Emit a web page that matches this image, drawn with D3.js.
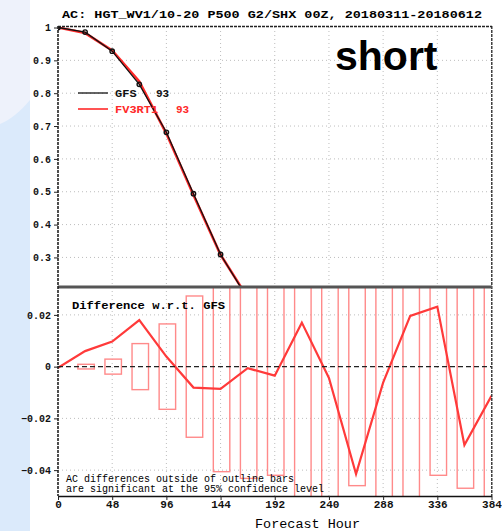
<!DOCTYPE html>
<html>
<head>
<meta charset="utf-8">
<title>AC HGT 500 short</title>
<script src="https://d3js.org/d3.v7.min.js"></script>
<style>
  body { margin: 0; background: #fff; }
  svg { display: block; }
  .mono { font-family: "Liberation Mono", "DejaVu Sans Mono", monospace; }
</style>
</head>
<body>
<svg width="502" height="531"></svg>
<script>
// forecast hours for the anomaly correlation curves
const hours = [0, 24, 48, 72, 96, 120, 144, 168];
const gfsAC = [1, 0.986, 0.928, 0.827, 0.681, 0.494, 0.309, 0.175];
const fv3AC = [1, 0.983, 0.930, 0.836, 0.677, 0.490, 0.308, 0.178];

// FV3 minus GFS, every 24h
const diffHours = [0, 24, 48, 72, 96, 120, 144, 168, 192, 216, 240, 264, 288, 312, 336, 360, 384];
const diffVals = [-0.0005, 0.006, 0.0097, 0.018, 0.0039, -0.0081, -0.0086, -0.0006, -0.0035,
                  0.017, -0.0044, -0.0415, -0.0062, 0.0196, 0.0232, -0.0303, -0.0113];

// 95% confidence half-height of outline bars
const barHours = [24, 48, 72, 96, 120, 144, 168, 192, 216, 240, 264, 288, 312, 336, 360, 384];
const barHalf = [0.0009, 0.0029, 0.0089, 0.0165, 0.0273, 0.0406, 0.0432, 0.042,
                 0.056, 0.058, 0.046, 0.057, 0.059, 0.042, 0.047, 0.06];

const xTicks = [0, 48, 96, 144, 192, 240, 288, 336, 384];
const topTicks = [0.3, 0.4, 0.5, 0.6, 0.7, 0.8, 0.9, 1];
const botTicks = [-0.04, -0.02, 0, 0.02];
const legendNames = ["GFS", "FV3RT1"];
const legendCounts = [93, 93];

const svg = d3.select("svg");

// slide background strip on the left
svg.append("rect").attr("x", 0).attr("y", 0).attr("width", 30).attr("height", 531).attr("fill", "#dbeafb");
svg.append("path").attr("d", "M0,0H30V100C20,112 10,120 0,124Z").attr("fill", "#eef2fb");

const x = d3.scaleLinear().domain([0, 384]).range([58, 491.5]);
const yTop = d3.scaleLinear().domain([0.21, 1]).range([287, 27.5]);
const yBot = d3.scaleLinear().domain([-0.05, 0.03]).range([496, 289]);

const defs = svg.append("defs");
defs.append("clipPath").attr("id", "clipTop").append("rect")
  .attr("x", 58).attr("y", 26).attr("width", 434).attr("height", 261);
defs.append("clipPath").attr("id", "clipBot").append("rect")
  .attr("x", 58).attr("y", 287).attr("width", 433.5).attr("height", 209);

// title
svg.append("text").attr("class", "mono")
  .attr("x", 62).attr("y", 17.5)
  .attr("textLength", 420).attr("lengthAdjust", "spacingAndGlyphs")
  .style("font-size", "10px").style("font-weight", "bold")
  .text("AC: HGT_WV1/10-20 P500 G2/SHX 00Z, 20180311-20180612");

// grids
const gridCol = "#bdbdbd";
const grid = svg.append("g").attr("stroke", gridCol).attr("stroke-width", 1).attr("stroke-dasharray", "1,3");
grid.selectAll(".vt").data(xTicks.slice(1, -1)).join("line")
  .attr("x1", d => x(d)).attr("x2", d => x(d)).attr("y1", 27).attr("y2", 496);
grid.selectAll(".ht").data(topTicks.slice(0, -1)).join("line")
  .attr("x1", 58).attr("x2", 491.5).attr("y1", d => yTop(d)).attr("y2", d => yTop(d));
grid.selectAll(".hb").data(botTicks.filter(d => d !== 0)).join("line")
  .attr("x1", 58).attr("x2", 491.5).attr("y1", d => yBot(d)).attr("y2", d => yBot(d));

// top panel curves
const topG = svg.append("g").attr("clip-path", "url(#clipTop)");
const lineTop = vals => d3.line().x((d, i) => x(hours[i])).y(d => yTop(d))(vals);
topG.append("path").attr("d", lineTop(fv3AC)).attr("fill", "none").attr("stroke", "#ff2a2a").attr("stroke-width", 2.6);
topG.append("path").attr("d", lineTop(gfsAC)).attr("fill", "none").attr("stroke", "#111").attr("stroke-width", 1.3);
topG.selectAll("circle").data(gfsAC).join("circle")
  .attr("cx", (d, i) => x(hours[i])).attr("cy", d => yTop(d)).attr("r", 2.2)
  .attr("fill", "none").attr("stroke", "#111").attr("stroke-width", 1.4);

// "short" label
svg.append("text").attr("x", 335).attr("y", 70)
  .style("font-family", "'Liberation Sans', Arial, sans-serif").style("font-weight", "bold")
  .style("font-size", "41px").text("short");

// legend
const legCol = ["#111", "#ff2a2a"];
const legY = [93, 109];
legendNames.forEach((n, i) => {
  svg.append("line").attr("x1", 78).attr("x2", 108).attr("y1", legY[i]).attr("y2", legY[i])
    .attr("stroke", legCol[i]).attr("stroke-width", i ? 1.6 : 1.3);
  svg.append("text").attr("class", "mono").attr("x", 115).attr("y", legY[i] + 3.5)
    .attr("fill", legCol[i]).style("font-size", "11px").style("font-weight", "bold")
    .attr("textLength", n.length * 7.2).attr("lengthAdjust", "spacingAndGlyphs").text(n);
  svg.append("text").attr("class", "mono").attr("x", i ? 176 : 156).attr("y", legY[i] + 3.5)
    .attr("fill", legCol[i]).style("font-size", "11px").style("font-weight", "bold")
    .text(legendCounts[i]);
});

// bottom panel: outline bars, zero line, difference curve
const botG = svg.append("g").attr("clip-path", "url(#clipBot)");
botG.selectAll("rect").data(barHours).join("rect")
  .attr("x", d => x(d - 7.3) + 1).attr("width", x(14.6) - x(0))
  .attr("y", (d, i) => yBot(barHalf[i])).attr("height", (d, i) => yBot(-barHalf[i]) - yBot(barHalf[i]))
  .attr("fill", "none").attr("stroke", "#ff8a8a").attr("stroke-width", 1.4);
svg.append("line").attr("x1", 58).attr("x2", 491.5).attr("y1", yBot(0)).attr("y2", yBot(0))
  .attr("stroke", "#222").attr("stroke-width", 1.2).attr("stroke-dasharray", "5,3");
botG.append("path")
  .attr("d", d3.line().x((d, i) => x(diffHours[i])).y(d => yBot(d))(diffVals))
  .attr("fill", "none").attr("stroke", "#ff3a3a").attr("stroke-width", 2.2);

svg.append("text").attr("class", "mono").attr("x", 72).attr("y", 308.5)
  .attr("textLength", 153).attr("lengthAdjust", "spacingAndGlyphs")
  .style("font-size", "11.5px").style("font-weight", "bold").text("Difference w.r.t. GFS");
svg.append("text").attr("class", "mono").attr("x", 66).attr("y", 482)
  .style("font-size", "10px").text("AC differences outside of outline bars");
svg.append("text").attr("class", "mono").attr("x", 66).attr("y", 492)
  .style("font-size", "10px").text("are significant at the 95% confidence level");

// frame
svg.append("line").attr("x1", 58).attr("x2", 492).attr("y1", 26.5).attr("y2", 26.5)
  .attr("stroke", "#222").attr("stroke-width", 1.3).attr("stroke-dasharray", "3,1");
svg.append("line").attr("x1", 491.8).attr("x2", 491.8).attr("y1", 26).attr("y2", 496)
  .attr("stroke", "#222").attr("stroke-width", 1.3).attr("stroke-dasharray", "3,1");
svg.append("line").attr("x1", 58).attr("x2", 492).attr("y1", 287).attr("y2", 287)
  .attr("stroke", "#555").attr("stroke-width", 3);

// axes
const styleAxis = g => {
  g.selectAll("text").attr("class", "mono").style("font-weight", "bold").attr("fill", "#111");
  g.selectAll(".tick line").attr("stroke", "#222");
};
svg.append("g").attr("transform", "translate(58,0)")
  .call(d3.axisLeft(yTop).tickValues(topTicks).tickSize(4).tickSizeOuter(0)
    .tickFormat(d => d === 1 ? "1" : d.toFixed(1)))
  .call(g => g.select(".domain").remove())
  .call(styleAxis).call(g => g.selectAll("text").style("font-size", "10px"));
svg.append("g").attr("transform", "translate(58,0)")
  .call(d3.axisLeft(yBot).tickValues(botTicks).tickSize(4).tickSizeOuter(0)
    .tickFormat(d => d === 0 ? "0" : d3.format(".2f")(d)))
  .call(g => g.select(".domain").remove())
  .call(styleAxis).call(g => g.selectAll("text").style("font-size", "10px"));
svg.append("line").attr("x1", 58).attr("x2", 58).attr("y1", 26).attr("y2", 496)
  .attr("stroke", "#222").attr("stroke-width", 1.6).attr("stroke-dasharray", "3,1");

svg.append("g").attr("transform", "translate(0,496)")
  .call(d3.axisBottom(x).tickValues(xTicks).tickSize(4).tickSizeOuter(0))
  .call(g => g.select(".domain").attr("stroke", "#111").attr("stroke-width", 1.6))
  .call(styleAxis)
  .call(g => g.selectAll("text").attr("y", 4).attr("dy", "0.71em").style("font-size", "11px"));

svg.append("text").attr("class", "mono").attr("x", 255).attr("y", 527.5)
  .attr("textLength", 105).attr("lengthAdjust", "spacingAndGlyphs")
  .style("font-size", "12.5px").text("Forecast Hour");
</script>
</body>
</html>
